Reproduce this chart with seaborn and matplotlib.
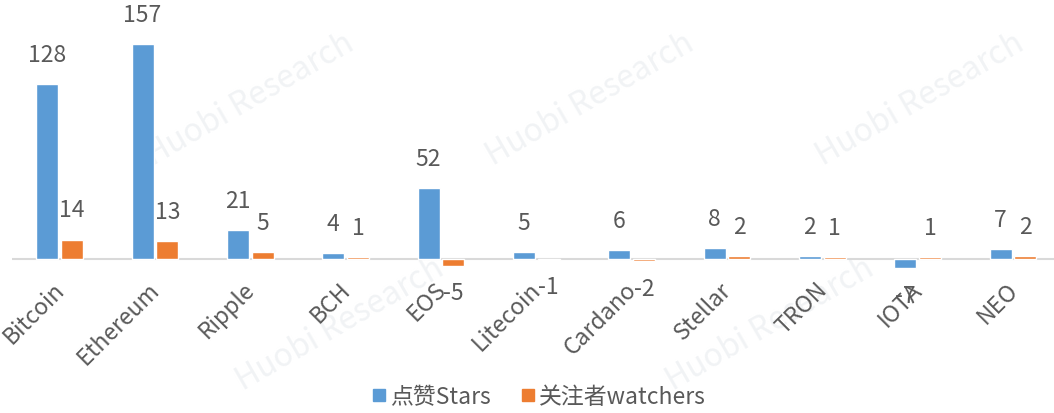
import matplotlib
matplotlib.use("Agg")
import matplotlib.pyplot as plt
from matplotlib.transforms import ScaledTranslation
import seaborn as sns
import pandas as pd

coins = ["Bitcoin", "Ethereum", "Ripple", "BCH", "EOS", "Litecoin",
         "Cardano", "Stellar", "TRON", "IOTA", "NEO"]
stars = [128, 157, 21, 4, 52, 5, 6, 8, 2, -7, 7]
watchers = [14, 13, 5, 1, -5, -1, -2, 2, 1, 1, 2]
series_names = ["点赞Stars", "关注者watchers"]
colors = ["#5B9BD5", "#ED7D31"]

df = pd.DataFrame({
    "coin": coins * 2,
    "value": stars + watchers,
    "series": [series_names[0]] * len(coins) + [series_names[1]] * len(coins),
})

sns.set_style("white")
plt.rcParams["font.family"] = ["Noto Sans CJK SC", "DejaVu Sans"]
text_color = "#595959"

fig = plt.figure(figsize=(10.54, 4.14), dpi=100)
# axes placed in figure pixels: left 12, right 1054, y from -20 (287px) to 160 (41px)
ax = fig.add_axes([12 / 1054, (414 - 287) / 414, (1054 - 12) / 1054, (287 - 41) / 414])

# faint watermark, drawn behind everything
for (wx, wy) in [(250, 100), (590, 100), (920, 100), (340, 325), (770, 325)]:
    fig.text(wx / 1054, 1 - wy / 414, "Huobi Research", fontsize=23, color="#F1F3F5",
             rotation=30, ha="center", va="center", zorder=-1)

sns.barplot(data=df, x="coin", y="value", hue="series", palette=colors,
            width=0.52, gap=0.12, ax=ax, legend=False, saturation=1, zorder=2)

for container in ax.containers:
    for bar in container:
        h = bar.get_height()
        x = bar.get_x() + bar.get_width() / 2
        if h >= 0:
            ax.annotate(f"{h:g}", (x, h), xytext=(0, 13), textcoords="offset points",
                        ha="center", va="bottom", fontsize=16.5, color=text_color)
        else:
            ax.annotate(f"{h:g}", (x, h), xytext=(0, -11), textcoords="offset points",
                        ha="center", va="top", fontsize=16.5, color=text_color)

ax.set_ylim(-20, 160)
ax.set_xlim(-0.5, 10.43)
ax.axhline(0, color="#D9D9D9", lw=1.5, zorder=1)
ax.set_yticks([])
ax.set_xlabel("")
ax.set_ylabel("")
for s in ax.spines.values():
    s.set_visible(False)
ax.patch.set_alpha(0)
ax.tick_params(axis="x", length=0, pad=0)
ax.set_xticks(range(len(coins)))
ax.set_xticklabels(coins, rotation=45, ha="right", rotation_mode="anchor",
                   fontsize=16.5, color=text_color)
shift = ScaledTranslation(-7 / 100, 0, fig.dpi_scale_trans)
for lab in ax.get_xticklabels():
    lab.set_y(0.035)
    lab.set_transform(lab.get_transform() + shift)

handles = [plt.Line2D([], [], marker="s", ls="", color=c, markersize=8) for c in colors]
fig.legend(handles, series_names, loc="center", bbox_to_anchor=(538 / 1054, 1 - 398 / 414),
           ncol=2, frameon=False, fontsize=16.5, labelcolor=text_color,
           handletextpad=0.1, columnspacing=1.2, handlelength=0.8)

fig.savefig("out.png", dpi=100)
